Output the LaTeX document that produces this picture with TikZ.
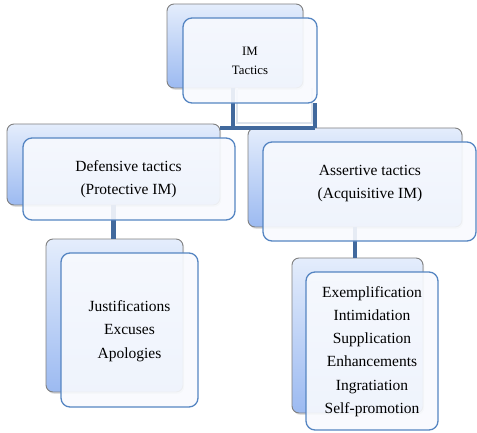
\documentclass[tikz,border=0pt]{standalone}
\usepackage{fontspec}
\setmainfont{Liberation Serif}
\usetikzlibrary{shadows}
\definecolor{frontline}{HTML}{5585C2}
\definecolor{conn}{HTML}{41699D}
\definecolor{backtop}{HTML}{E4EDFC}
\definecolor{backbot}{HTML}{9CBAF1}
\definecolor{frontfill}{HTML}{F8FAFE}
\definecolor{ghost}{HTML}{DCE3EC}
\begin{document}
\begin{tikzpicture}[x=1pt,y=-1pt,
  backbox/.style={rounded corners=7pt, draw=black!50, line width=0.9pt,
    top color=backtop, bottom color=backbot, inner sep=0pt, outer sep=0pt,
    drop shadow={shadow xshift=1.2pt, shadow yshift=-1.8pt, opacity=0.25}},
  frontbox/.style={rounded corners=9pt, draw=frontline, line width=1.3pt,
    fill=frontfill, fill opacity=0.9, inner sep=0pt, outer sep=0pt},
  conline/.style={draw=conn, line width=4.5pt},
  bigtext/.style={align=center, font=\fontsize{15.5}{22.5}\selectfont, inner sep=0pt},
  listtext/.style={align=center, font=\fontsize{15.5}{23.3}\selectfont, inner sep=0pt},
  smalltext/.style={align=center, font=\fontsize{12.8}{19}\selectfont, inner sep=0pt}
]
\useasboundingbox (0,0) rectangle (477,433);

% back boxes
\node[backbox, minimum width=136pt, minimum height=84pt] (tb) at (235,46) {};
\node[backbox, minimum width=213pt, minimum height=81pt] (lb) at (113.5,164.5) {};
\node[backbox, minimum width=214pt, minimum height=99pt] (rb) at (355,177.5) {};
\node[backbox, minimum width=137pt, minimum height=153pt] (llb) at (114.5,315.5) {};
\node[backbox, minimum width=131pt, minimum height=155pt] (rrb) at (357.5,335.5) {};

% faint outline under the top box
\draw[ghost, line width=1.2pt] (237,88) -- (237,123) -- (312,123) -- (312,88);

% connectors
\coordinate (j) at (233,128);
\coordinate (r) at (315,128);
\draw[conline] (tb.south -| j) -- (j);
\draw[conline] (lb.east |- j) -- (r);
\draw[conline] (r) -- (r |- 0,103);
\draw[conline] (lb.south) -- (lb.south |- llb.north);
\draw[conline] (rb.south) -- (rb.south |- rrb.north);

% front boxes
\node[frontbox, minimum width=134pt, minimum height=85pt] (tf) at (250,60.5) {};
\node[frontbox, minimum width=212pt, minimum height=82pt] (lf) at (129,179) {};
\node[frontbox, minimum width=213pt, minimum height=99pt] (rf) at (369.5,191.5) {};
\node[frontbox, minimum width=137pt, minimum height=154pt] (llf) at (129.5,330) {};
\node[frontbox, minimum width=132pt, minimum height=158pt] (rrf) at (372,351) {};

% texts
\node[smalltext] (t1) at (250,61) {IM\\Tactics};
\node[bigtext] (t2) at (128.5,179) {Defensive tactics\\(Protective IM)};
\node[bigtext] (t3) at (370,183.5) {Assertive tactics\\(Acquisitive IM)};
\node[listtext] (t4) at (129.5,331) {Justifications\\Excuses\\Apologies};
\node[listtext] (t5) at (372,351.5) {Exemplification\\Intimidation\\Supplication\\Enhancements\\Ingratiation\\Self-promotion};
\end{tikzpicture}
\end{document}
